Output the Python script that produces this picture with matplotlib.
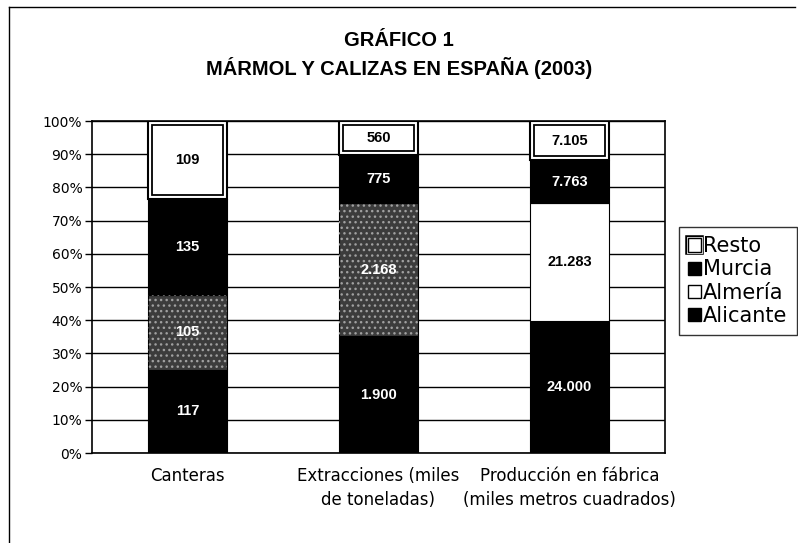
import matplotlib
matplotlib.use("Agg")
import matplotlib.pyplot as plt
import matplotlib.patheffects as pe
from matplotlib.lines import Line2D
from matplotlib.patches import Patch
import numpy as np

plt.rcParams['font.family'] = ['Liberation Sans', 'DejaVu Sans']

categories = ["Canteras", "Extracciones (miles\nde toneladas)", "Producción en fábrica\n(miles metros cuadrados)"]
series = ["Alicante", "Almería", "Murcia", "Resto"]
alicante = [117, 1900, 24000]
almeria = [105, 2168, 21283]
murcia = [135, 775, 7763]
resto = [109, 560, 7105]
labels = {
    "Alicante": ["117", "1.900", "24.000"],
    "Almería": ["105", "2.168", "21.283"],
    "Murcia": ["135", "775", "7.763"],
    "Resto": ["109", "560", "7.105"],
}

values = np.array([alicante, almeria, murcia, resto], dtype=float)
pct = values / values.sum(axis=0) * 100

fig = plt.figure(figsize=(7.98, 5.43), dpi=100)
ax = fig.add_axes([0.1153, 0.1657, 0.718, 0.6114])
ax.set_xlim(-0.5, 2.5)
ax.set_ylim(0, 100)

x = np.arange(len(categories))
w = 0.41
bottom = np.zeros(len(categories))

# pixel size of one data unit, used for the inner line of the "Resto" boxes
p0 = ax.transData.transform((0, 0))
p1 = ax.transData.transform((1, 1))
dx = 4.0 / (p1[0] - p0[0])
dy = 4.0 / (p1[1] - p0[1])

for i, name in enumerate(series):
    h = pct[i]
    if name == "Alicante" or name == "Murcia":
        ax.bar(x, h, w, bottom=bottom, color="black", edgecolor="black", linewidth=0.8, zorder=3)
        tcol = ["white"] * 3
    elif name == "Almería":
        # scanned texture: dark grey in the first two bars, white in the third
        cols = ["#3c3c3c", "#3c3c3c", "white"]
        ax.bar(x, h, w, bottom=bottom, color=cols, edgecolor="black", linewidth=0.8, zorder=3)
        ax.bar(x[:2], h[:2], w, bottom=bottom[:2], fill=False, hatch="...", edgecolor="#a0a0a0",
               linewidth=0, zorder=3.5)
        tcol = ["white", "white", "black"]
    else:
        ax.bar(x, h, w, bottom=bottom, color="white", edgecolor="black", linewidth=1.5, zorder=3)
        ax.bar(x, h - 2 * dy, w - 2 * dx, bottom=bottom + dy, fill=False, edgecolor="black",
               linewidth=1.3, zorder=3.5)
        tcol = ["black"] * 3
    for j in range(len(categories)):
        ax.text(x[j], bottom[j] + h[j] / 2, labels[name][j], ha="center", va="center",
                color=tcol[j], fontsize=10.5, fontweight="bold", zorder=5)
    bottom = bottom + h

ax.set_yticks(np.arange(0, 101, 10))
ax.set_yticklabels([f"{v}%" for v in range(0, 101, 10)], fontsize=10, family="DejaVu Sans")
ax.set_xticks(x)
ax.set_xticklabels(categories, fontsize=12, linespacing=1.45, family="DejaVu Sans")
ax.tick_params(axis="x", length=0, pad=10)
ax.tick_params(axis="y", length=5, width=1, direction="out", pad=2)
ax.yaxis.grid(True, color="black", linewidth=1)
ax.set_axisbelow(True)
for s in ax.spines.values():
    s.set_color("black")
    s.set_linewidth(1.2)

fig.text(0.5, 0.926, "GRÁFICO 1", ha="center", va="center", fontsize=14.5, fontweight="bold")
fig.text(0.5, 0.874, "MÁRMOL Y CALIZAS EN ESPAÑA (2003)", ha="center", va="center",
         fontsize=14.5, fontweight="bold")

handles = [
    Patch(facecolor="white", edgecolor="black", linewidth=1,
          path_effects=[pe.Stroke(linewidth=4, foreground="black"),
                        pe.Stroke(linewidth=2, foreground="white"), pe.Normal()]),
    Patch(facecolor="black", edgecolor="black"),
    Patch(facecolor="white", edgecolor="black", linewidth=1),
    Patch(facecolor="black", edgecolor="black"),
]
leg = fig.legend(handles, ["Resto", "Murcia", "Almería", "Alicante"], loc="upper left",
                 bbox_to_anchor=(0.851, 0.582), prop={"family": "DejaVu Sans", "size": 15},
                 frameon=True, fancybox=False,
                 handlelength=0.6, handleheight=0.6, handletextpad=0.1, borderpad=0.45,
                 labelspacing=0.15, borderaxespad=0)
leg.get_frame().set_edgecolor("black")
leg.get_frame().set_linewidth(1)

fig.add_artist(Line2D([0.011, 0.011], [0, 0.987], color="black", linewidth=1, transform=fig.transFigure))
fig.add_artist(Line2D([0.011, 0.996], [0.987, 0.987], color="black", linewidth=1, transform=fig.transFigure))

fig.savefig("out.png", dpi=100)
